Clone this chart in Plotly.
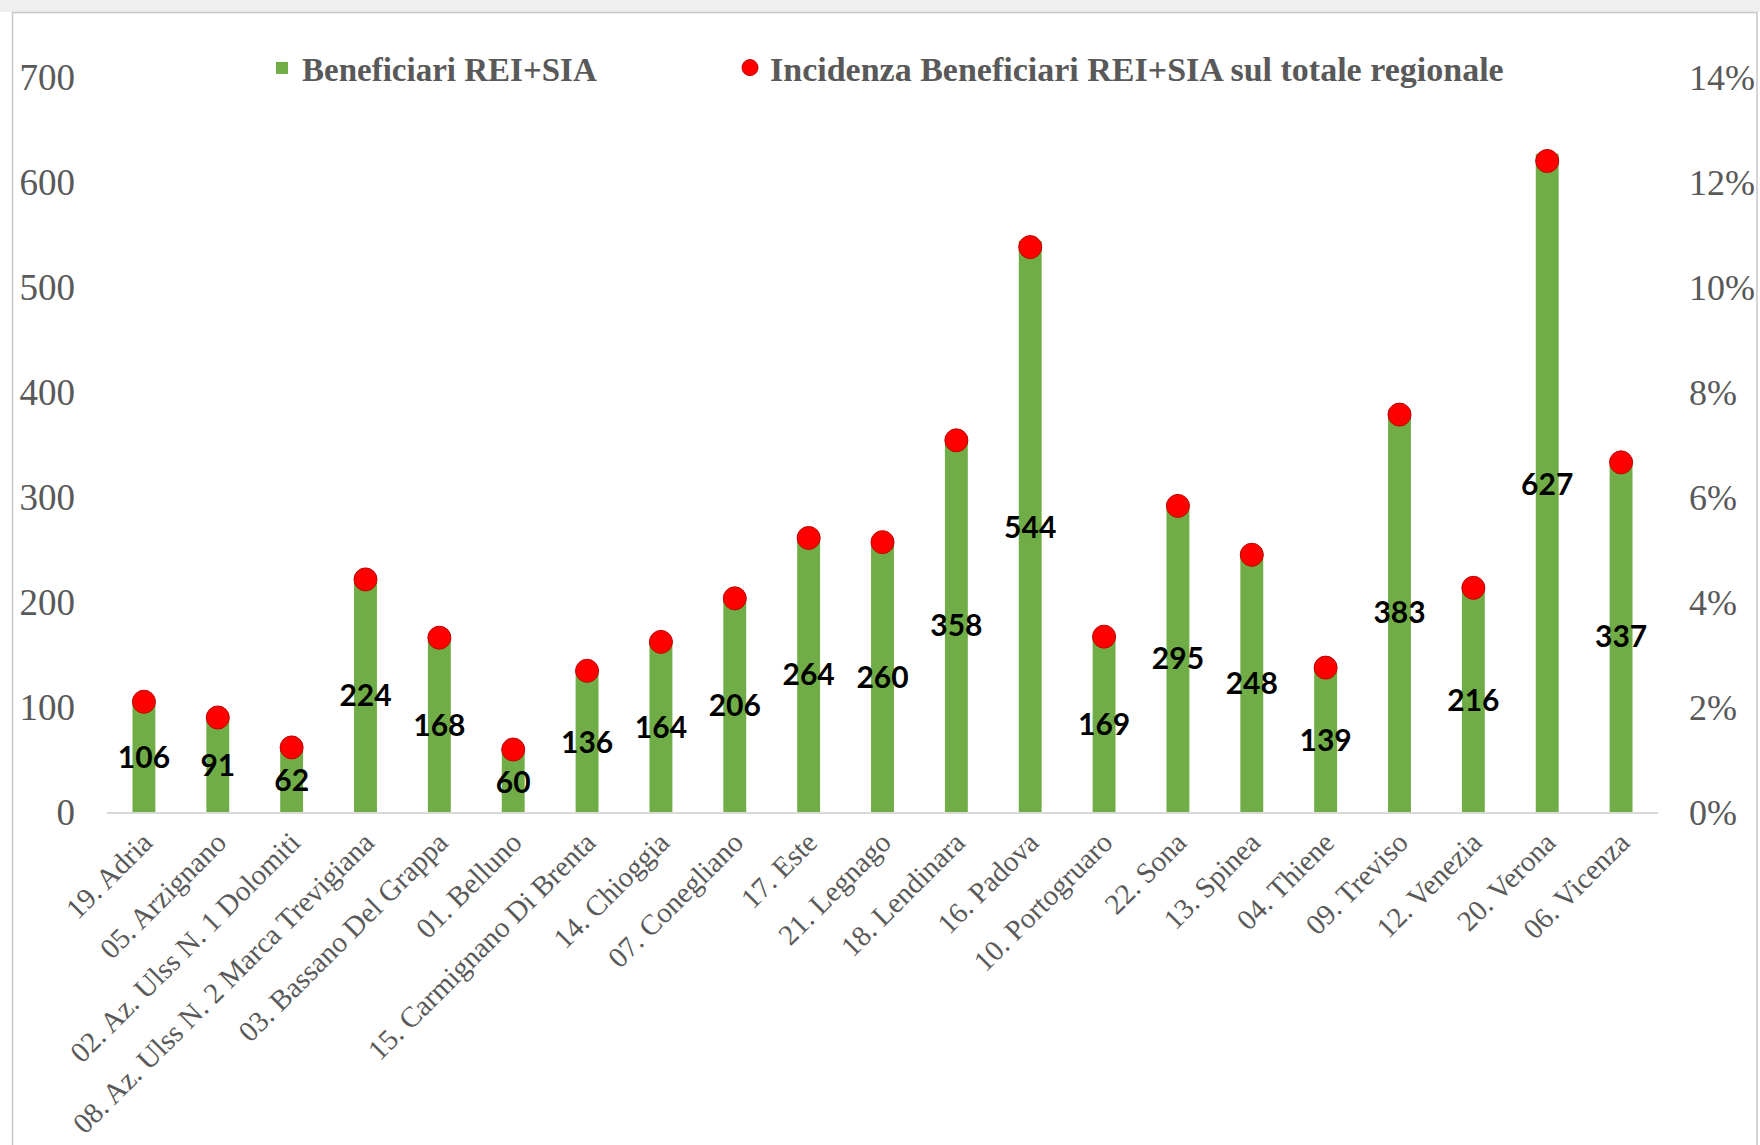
import plotly.graph_objects as go

# Ambiti territoriali (ordine alfabetico per nome)
ambiti = [
    "19. Adria", "05. Arzignano", "02. Az. Ulss N. 1 Dolomiti",
    "08. Az. Ulss N. 2 Marca Trevigiana", "03. Bassano Del Grappa",
    "01. Belluno", "15. Carmignano Di Brenta", "14. Chioggia",
    "07. Conegliano", "17. Este", "21. Legnago", "18. Lendinara",
    "16. Padova", "10. Portogruaro", "22. Sona", "13. Spinea",
    "04. Thiene", "09. Treviso", "12. Venezia", "20. Verona", "06. Vicenza",
]

# Numero di beneficiari REI+SIA per ambito
beneficiari = [106, 91, 62, 224, 168, 60, 136, 164, 206, 264, 260,
               358, 544, 169, 295, 248, 139, 383, 216, 627, 337]

# Incidenza sul totale regionale (%)
incidenza_pct = [2.10, 1.80, 1.23, 4.43, 3.32, 1.19, 2.69, 3.24, 4.07,
                 5.22, 5.14, 7.08, 10.76, 3.34, 5.83, 4.90, 2.75, 7.57,
                 4.27, 12.40, 6.66]
incidenza = [v / 100 for v in incidenza_pct]

GREEN = "#70AD47"
RED = "#FF0000"
GREY_TXT = "#595959"
SERIF = "Liberation Serif"

# Plot-area geometry in pixels (used to place frame and legends in paper coords)
W, H = 1760, 1145
ML, MR, MT, MB = 107, 102, 77, 333
PW = W - ML - MR
PH = H - MT - MB


def px_x(px):
    return (px - ML) / PW


def px_y(py):
    return (H - MB - py) / PH


fig = go.Figure()

fig.add_trace(go.Bar(
    x=ambiti, y=beneficiari, name="Beneficiari REI+SIA",
    marker=dict(color=GREEN, line=dict(width=0)),
    text=[str(v) for v in beneficiari],
    textposition="inside", insidetextanchor="middle",
    constraintext="none", textangle=0,
    textfont=dict(family="Lato", size=30, color="black", weight="bold"),
    yaxis="y", legend="legend",
))

fig.add_trace(go.Scatter(
    x=ambiti, y=incidenza, name="Incidenza Beneficiari REI+SIA sul totale regionale",
    mode="markers",
    marker=dict(color=RED, size=23, line=dict(color="#C00000", width=1)),
    yaxis="y2", legend="legend2",
))

shapes = [
    # soft grey strip above the chart frame
    dict(type="rect", xref="paper", yref="paper",
         x0=px_x(0), x1=px_x(W), y0=px_y(12), y1=px_y(0),
         fillcolor="#EFEFEF", line=dict(width=0), layer="below"),
    # chart frame
    dict(type="rect", xref="paper", yref="paper",
         x0=px_x(12.5), x1=px_x(1757), y0=px_y(1160), y1=px_y(12.5),
         fillcolor="rgba(0,0,0,0)", line=dict(color="#C8C8C8", width=1.5),
         layer="below"),
]

legend_font = dict(family=SERIF, size=33, color=GREY_TXT, weight="bold")

fig.update_layout(
    width=W, height=H,
    margin=dict(l=ML, r=MR, t=MT, b=MB, autoexpand=False),
    paper_bgcolor="white", plot_bgcolor="white",
    bargap=0.69,
    showlegend=True,
    legend=dict(
        orientation="h", x=px_x(262), y=px_y(68),
        xanchor="left", yanchor="middle",
        font=legend_font, itemwidth=30, bgcolor="rgba(0,0,0,0)",
    ),
    legend2=dict(
        orientation="h", x=px_x(730), y=px_y(68),
        xanchor="left", yanchor="middle",
        font=dict(legend_font, size=34), itemwidth=30,
        bgcolor="rgba(0,0,0,0)",
    ),
    xaxis=dict(
        type="category", tickangle=-45, range=[-0.5, len(ambiti) - 0.5],
        tickfont=dict(family=SERIF, size=29, color=GREY_TXT),
        showline=True, linecolor="#D9D9D9", linewidth=1.5,
        ticks="", showgrid=False, zeroline=False,
    ),
    yaxis=dict(
        range=[0, 700], dtick=100, tick0=0,
        tickfont=dict(family=SERIF, size=37, color=GREY_TXT),
        showgrid=False, zeroline=False, showline=False, ticks="",
        ticklabelstandoff=31,
    ),
    yaxis2=dict(
        overlaying="y", side="right",
        range=[0, 0.14], dtick=0.02, tick0=0, tickformat=".0%",
        tickfont=dict(family=SERIF, size=36, color=GREY_TXT),
        showgrid=False, zeroline=False, showline=False, ticks="",
        ticklabelstandoff=30,
    ),
    shapes=shapes,
)

fig.write_html("out.html")
